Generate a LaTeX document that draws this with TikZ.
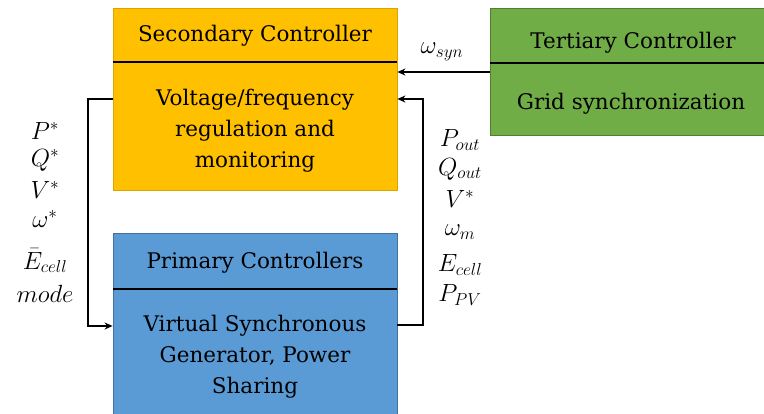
\documentclass[tikz,border=0pt]{standalone}
\usepackage{fontspec}
\setmainfont{DejaVu Serif}
\usetikzlibrary{arrows.meta}
% larger sub- and superscripts for the signal labels
\DeclareMathSizes{24}{24}{18.5}{14}
\definecolor{secfill}{HTML}{FFC000}
\definecolor{secedge}{HTML}{D9A300}
\definecolor{prifill}{HTML}{5B9BD5}
\definecolor{priedge}{HTML}{41719C}
\definecolor{terfill}{HTML}{70AD47}
\definecolor{teredge}{HTML}{507E32}
\tikzset{
  ctrlbox/.style={draw=#1edge, fill=#1fill, line width=0.8pt, inner sep=0pt},
  divider/.style={line width=2pt, black},
  txt/.style={font=\fontsize{21.5}{31}\selectfont, align=center, inner sep=0pt},
  sig/.style={font=\fontsize{24}{30}\selectfont, inner sep=0pt},
  flow/.style={line width=2pt, -{Stealth[length=8pt,width=7pt]}}
}
\begin{document}
\begin{tikzpicture}[x=1pt,y=-1pt]
\useasboundingbox (0,0) rectangle (764,413);
% controller blocks
\node[ctrlbox=sec, minimum width=284pt, minimum height=182pt] (sec) at (255,99) {};
\node[ctrlbox=pri, minimum width=284pt, minimum height=184pt] (pri) at (255,325) {};
\node[ctrlbox=ter, minimum width=278pt, minimum height=127pt] (ter) at (629,71.5) {};
% header dividers
\draw[divider] (sec.west |- 0,62) -- (sec.east |- 0,62);
\draw[divider] (pri.west |- 0,289) -- (pri.east |- 0,289);
\draw[divider] (ter.west |- 0,63) -- (764,63);
% block texts
\node[txt] (sectitle) at (255,36) {Secondary Controller};
\node[txt] (secbody) at (255,131) {Voltage/frequency\\regulation and\\monitoring};
\node[txt] (prititle) at (255,263) {Primary Controllers};
\node[txt] (pribody) at (255,357) {Virtual Synchronous\\Generator, Power\\Sharing};
\node[txt] (tertitle) at (633,43) {Tertiary Controller};
\node[txt] (terbody) at (631,104) {Grid synchronization};
% signal paths
\coordinate (lft) at (88,0);
\coordinate (rgt) at (423,0);
\draw[flow] (ter.west |- 0,72) -- (sec.east |- 0,72);
\draw[flow] (sec.west |- 0,99) -- (lft |- 0,99) -- (lft |- 0,326) -- (pri.west |- 0,326);
\draw[flow] (pri.east |- 0,325) -- (rgt |- 0,325) -- (rgt |- 0,99) -- (sec.east |- 0,99);
% signal labels
\node[sig] (wsyn) at (442,52) {$\omega_{syn}$};
\node[sig] (lp) at (45,131) {$P^*$};
\node[sig] (lq) at (45,160) {$Q^*$};
\node[sig] (lv) at (45,190) {$V^*$};
\node[sig] (lw) at (45,219) {$\omega^*$};
\node[sig] (le) at (45,261) {$\bar{E}_{cell}$};
\node[sig] (lm) at (45,294) {$mode$};
\node[sig] (rp) at (460,140) {$P_{out}$};
\node[sig] (rq) at (460,169) {$Q_{out}$};
\node[sig] (rv) at (460,199) {$V^*$};
\node[sig] (rw) at (460,232) {$\omega_m$};
\node[sig] (re) at (460,265) {$E_{cell}$};
\node[sig] (rpv) at (460,295) {$P_{PV}$};
\end{tikzpicture}
\end{document}
